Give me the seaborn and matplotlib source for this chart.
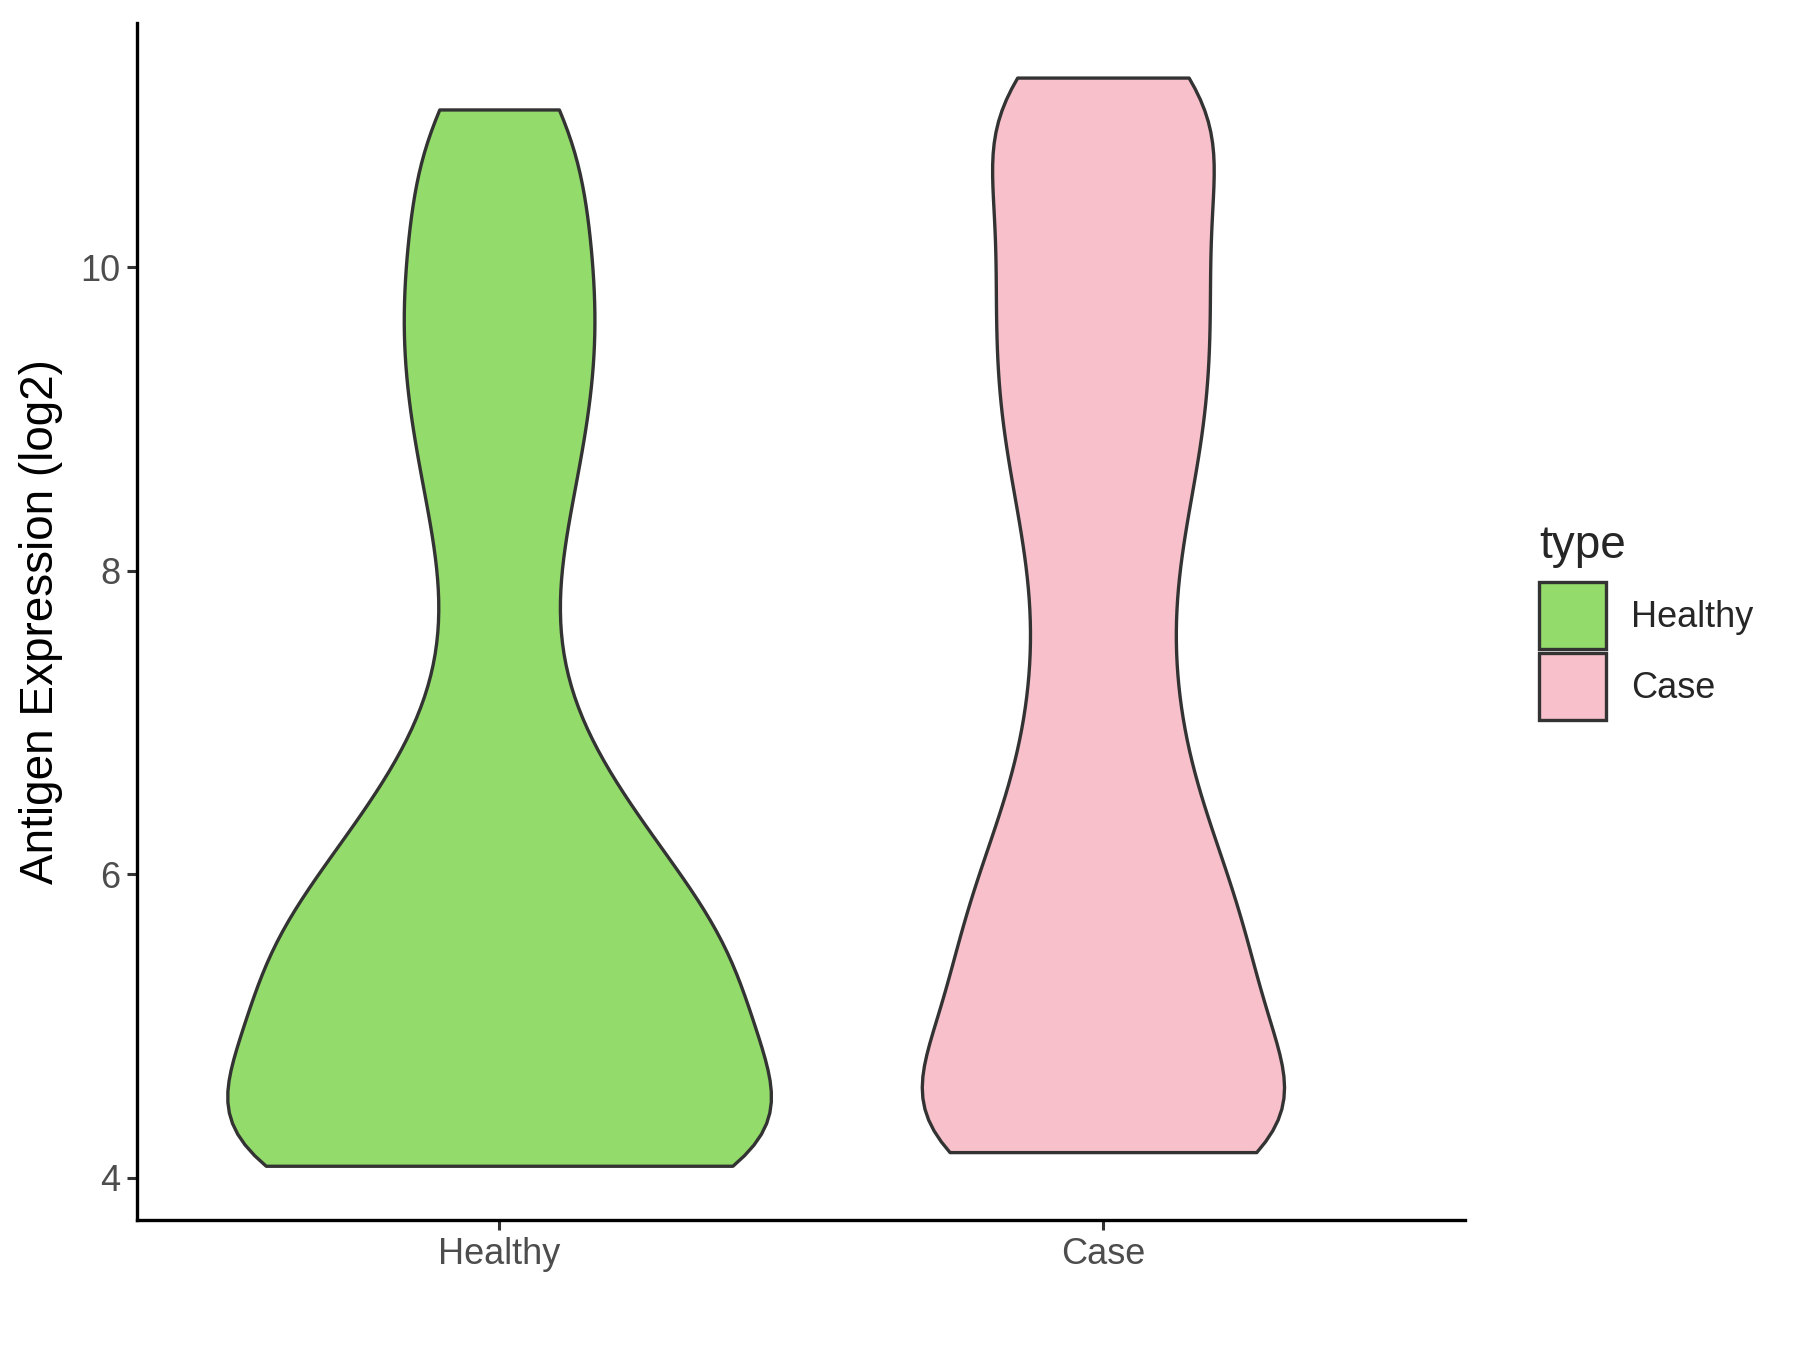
import numpy as np
import pandas as pd
import matplotlib
matplotlib.use("Agg")
import matplotlib.pyplot as plt
import seaborn as sns
from matplotlib.patches import Patch

# antigen expression values (log2) per group
healthy_vals = [4.08, 4.08, 4.09, 4.1, 4.12, 4.15, 4.19, 4.26, 4.36, 4.5, 4.65, 4.8,
                4.92, 5.02, 5.12, 5.22, 5.32, 5.42, 5.52, 5.64, 5.76, 5.9,
                6.05, 6.22, 6.42,
                6.62, 6.95, 7.4, 7.95, 8.4,
                8.75, 9.05, 9.35, 9.62, 9.88, 10.15, 10.5, 10.85, 11.04]
case_vals = [4.17, 4.17, 4.18, 4.2, 4.24, 4.3, 4.38, 4.48, 4.6, 4.73, 4.87,
             4.98, 5.1, 5.22, 5.35, 5.48, 5.6, 5.73, 5.87, 6.02, 6.18, 6.36,
             6.55, 6.8, 7.05, 7.3, 7.6, 7.9, 8.15, 8.4,
             8.62, 8.82, 9.0, 9.18, 9.36, 9.54, 9.72, 9.9, 10.07, 10.25, 10.45,
             10.65, 10.85, 11.0, 11.12, 11.2, 11.25]
groups = ["Healthy", "Case"]
colors = {"Healthy": "#93DB6A", "Case": "#F7C0CB"}

df = pd.DataFrame({
    "type": ["Healthy"] * len(healthy_vals) + ["Case"] * len(case_vals),
    "value": healthy_vals + case_vals,
})

sns.set_style("white")
plt.rcParams["font.family"] = ["Liberation Sans", "DejaVu Sans"]

fig = plt.figure(figsize=(18, 13.5), dpi=100)
ax = fig.add_axes([0.076, 0.096, 0.738, 0.887])

# one violin per call so each group gets its own smoothing; widths keep
# the area ratio between the two groups
violin_width = {"Healthy": 0.9, "Case": 0.6}
smoothing = {"Healthy": 0.5, "Case": 0.45}
for g in groups:
    sns.violinplot(data=df[df["type"] == g], x="type", y="value", hue="type",
                   order=groups, hue_order=groups, palette=colors,
                   saturation=1, cut=0, inner=None, bw_adjust=smoothing[g],
                   width=violin_width[g], linewidth=2.4, linecolor="#333333",
                   legend=False, ax=ax)

ax.set_xlim(-0.6, 1.6)
ax.set_ylim(3.72, 11.61)
ax.set_yticks([4, 6, 8, 10])
ax.set_xlabel("")
ax.set_ylabel("Antigen Expression (log2)", fontsize=33, color="black",
              labelpad=12)
ax.tick_params(axis="both", labelsize=26, labelcolor="#4D4D4D", length=7,
               width=2.2, color="#333333", direction="out", pad=5,
               left=True, bottom=True)
for side in ["top", "right"]:
    ax.spines[side].set_visible(False)
for side in ["left", "bottom"]:
    ax.spines[side].set_linewidth(2.4)
    ax.spines[side].set_color("black")

handles = [Patch(facecolor=colors[g], edgecolor="#333333", linewidth=2.4, label=g)
           for g in groups]
leg = fig.legend(handles=handles, title="type", loc="center left",
                 bbox_to_anchor=(0.845, 0.539), frameon=False, fontsize=26,
                 title_fontsize=33, handlelength=1.85, handleheight=2.47,
                 handletextpad=0.7, labelspacing=0.12, borderpad=0)
leg._legend_box.align = "left"
leg._legend_box.sep = 10

fig.savefig("out.png", dpi=100)
